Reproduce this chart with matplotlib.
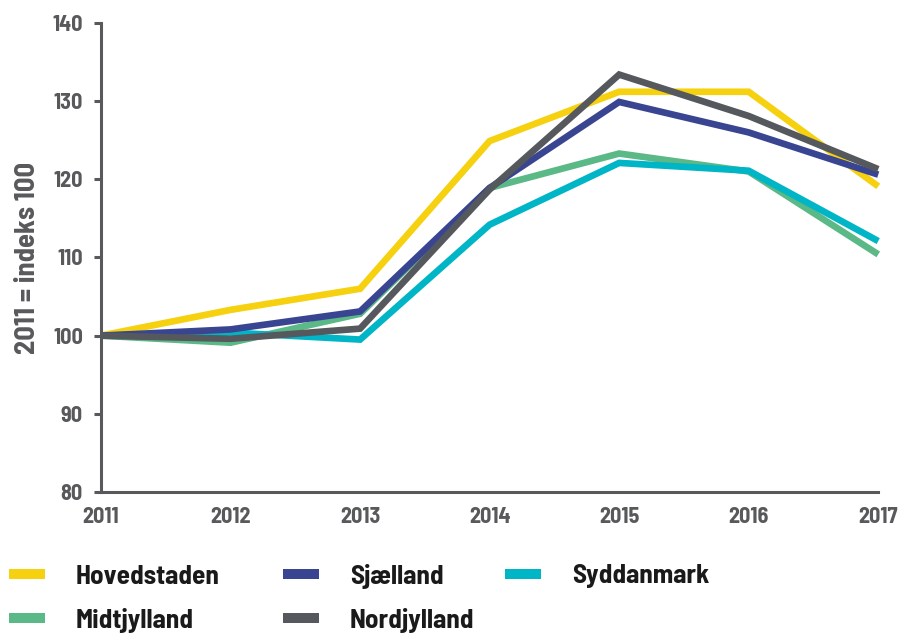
import numpy as np
import matplotlib
matplotlib.use('Agg')
import matplotlib.pyplot as plt
from matplotlib.lines import Line2D

plt.rcParams['font.family'] = ['Barlow Semi Condensed', 'Roboto Condensed',
                               'DejaVu Sans']

# data
years = [2011, 2012, 2013, 2014, 2015, 2016, 2017]
hovedstaden = [100, 103.3, 106.0, 124.9, 131.2, 131.2, 119.1]
sjaelland = [100, 100.8, 103.1, 118.9, 129.9, 126.0, 120.6]
syddanmark = [100, 100.4, 99.5, 114.2, 122.1, 121.1, 112.1]
midtjylland = [100, 99.1, 102.8, 118.9, 123.3, 121.0, 110.4]
nordjylland = [100, 99.6, 100.9, 118.7, 133.4, 128.1, 121.3]

names = ['Hovedstaden', 'Sjælland', 'Syddanmark', 'Midtjylland', 'Nordjylland']
series = [hovedstaden, sjaelland, syddanmark, midtjylland, nordjylland]
colors = ['#F6D10F', '#3A4592', '#00B5C6', '#5AB986', '#55595D']
yticks = [80, 90, 100, 110, 120, 130, 140]

axis_col = '#58595B'

fig = plt.figure(figsize=(8.98, 6.35), dpi=100, facecolor='w')
ax = fig.add_axes([0.1125, 0.2252, 0.8655, 0.7386])

# draw order: yellow, green, cyan, navy, gray on top
order = [0, 3, 2, 1, 4]
for i in order:
    ax.plot(years, series[i], color=colors[i], lw=4.8, solid_joinstyle='miter',
            solid_capstyle='butt', clip_on=False)

ax.set_xlim(2011, 2017)
ax.set_ylim(80, 140)
ax.set_yticks(yticks)
ax.set_xticks(years)
for s in ['top', 'right']:
    ax.spines[s].set_visible(False)
for s in ['left', 'bottom']:
    ax.spines[s].set_color(axis_col)
    ax.spines[s].set_linewidth(2.2)
ax.tick_params(axis='y', length=5, width=2.2, color=axis_col, pad=8,
               labelsize=16, labelcolor=axis_col)
ax.tick_params(axis='x', length=0, pad=11, labelsize=16, labelcolor=axis_col)
for lab in ax.get_xticklabels() + ax.get_yticklabels():
    lab.set_fontweight('bold')
ax.set_ylabel('2011 = indeks 100', fontsize=20.5, fontweight='bold',
              color=axis_col, labelpad=9)

# legend, drawn by hand in a 3-column grid
col_x = [9, 283, 505]
row_y = [574, 618]
W, H = fig.bbox.width, fig.bbox.height
for k, name in enumerate(names):
    r, c = divmod(k, 3)
    x0 = col_x[c]
    y0 = H - row_y[r]
    fig.add_artist(Line2D([x0 / W, (x0 + 36) / W], [y0 / H, y0 / H],
                          transform=fig.transFigure, color=colors[k],
                          lw=7.2, solid_capstyle='butt'))
    fig.text((x0 + 67) / W, y0 / H, name, fontsize=19.5, fontweight='bold',
             color='#1a1a1a', va='center_baseline', ha='left')

fig.savefig('out.png', dpi=100)
